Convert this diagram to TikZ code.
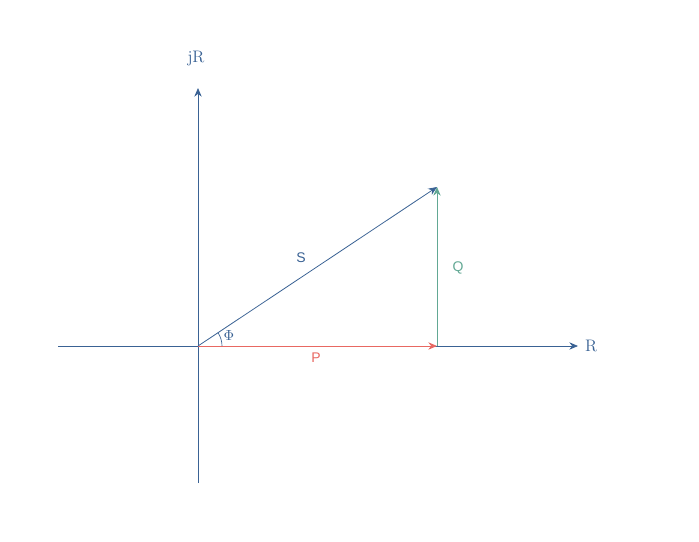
\documentclass[tikz,border=0pt]{standalone}
\usepackage{fontspec}
\setsansfont{Liberation Sans}
\usetikzlibrary{arrows.meta}
\definecolor{axisblue}{RGB}{58,98,148}
\definecolor{pred}{RGB}{232,104,98}
\definecolor{qgreen}{RGB}{98,168,148}

\begin{document}
\begin{tikzpicture}[x=0.75pt,y=-0.75pt,>={Stealth[length=6.5pt,width=5.5pt]},
  axis/.style={axisblue,line width=0.6pt,->},
  vec/.style={line width=0.6pt,->},
  axis label/.style={axisblue,font=\fontsize{12.5}{14}\selectfont},
  vec label/.style={font=\sffamily\fontsize{10.5}{12}\selectfont}]
  \useasboundingbox (0,0) rectangle (699,542);
  \coordinate (O) at (198,346);
  \coordinate (xl) at (58,346);
  \coordinate (xr) at (578,346);
  \coordinate (yb) at (198,483);
  \coordinate (yt) at (198,88);
  \coordinate (A) at (437,346);
  \coordinate (B) at (437,187);
  % axes
  \draw[axis] (xl) -- (xr);
  \draw[axis] (yb) -- (yt);
  \node[axis label] (R) at (591,346) {R};
  \node[axis label] (jR) at (196,59) {jR};
  % power triangle
  \draw[vec,pred] (O) -- (A);
  \draw[vec,qgreen] (A) -- (B);
  \draw[vec,axisblue] (O) -- (B);
  \draw[axisblue,line width=0.5pt] (O) ++(24,0) arc (0:-33.6:24);
  \node[vec label,axisblue] (S) at (301,258) {S};
  \node[vec label,pred] (P) at (316,358) {P};
  \node[vec label,qgreen] (Q) at (458,268) {Q};
  \node[axisblue,font=\fontsize{10.5}{12}\selectfont] (phi) at (229,336) {$\Phi$};
\end{tikzpicture}
\end{document}
